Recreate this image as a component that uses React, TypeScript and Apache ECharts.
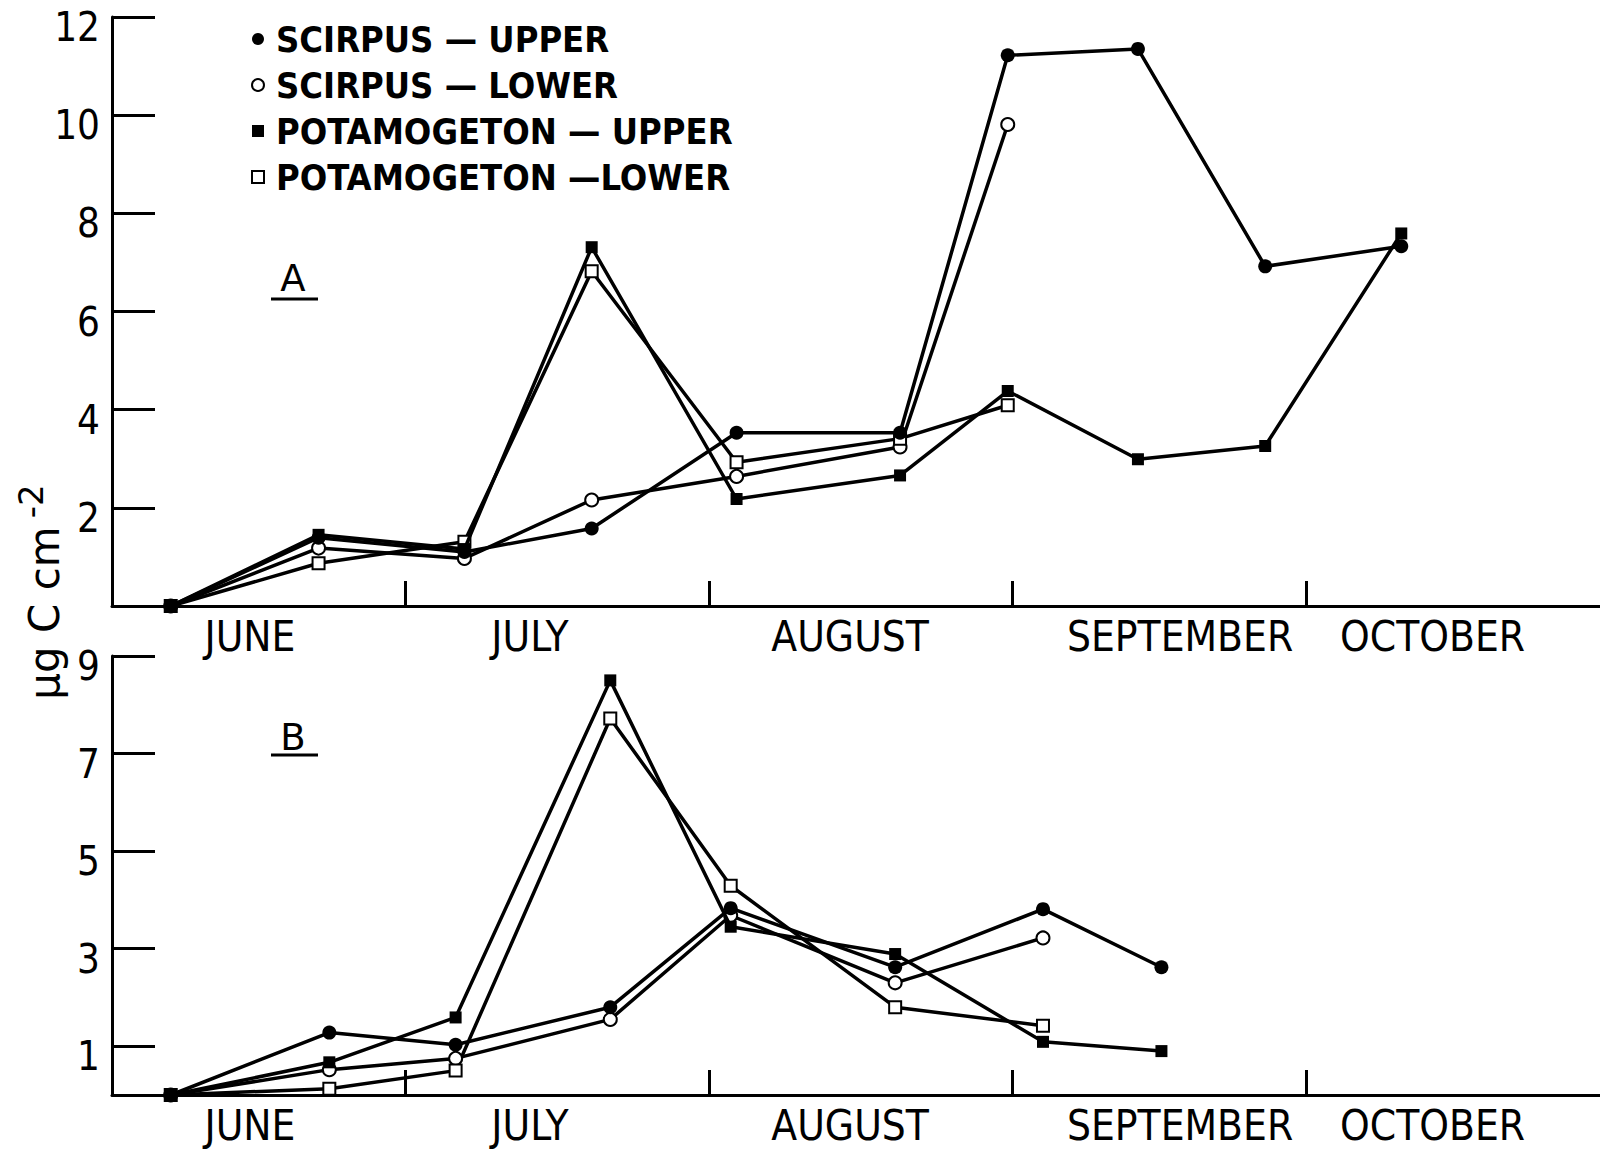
import React, { useEffect, useRef } from "react";
import * as echarts from "echarts";

// ---------- data ----------
const seriesNames = [
  "SCIRPUS — UPPER",
  "SCIRPUS — LOWER",
  "POTAMOGETON — UPPER",
  "POTAMOGETON —LOWER",
];

// x axis: days counted from 1 June
const monthNames = ["JUNE", "JULY", "AUGUST", "SEPTEMBER", "OCTOBER"];
const monthLabelDays = [14.1, 42.7, 75.4, 109.1, 134.9];
const monthStartDays = [30, 61, 92, 122];

const aTicks = [2, 4, 6, 8, 10, 12];
const bTicks = [1, 3, 5, 7, 9];

// Panel A sampling days
const aDays = [6, 21.1, 36, 49, 63.8, 80.5, 91.5, 104.8, 117.8, 131.7];
const aScirpusUpper = [0, 1.39, 1.1, 1.58, 3.53, 3.53, 11.22, 11.35, 6.92, 7.33];
const aScirpusLower = [0, 1.18, 0.97, 2.16, 2.64, 3.24, 9.81];
const aPotUpper = [0, 1.45, 1.16, 7.31, 2.18, 2.66, 4.38, 2.99, 3.26, 7.59];
const aPotLower = [0, 0.87, 1.31, 6.82, 2.93, 3.41, 4.09];

// Panel B sampling days
const bDays = [6, 22.2, 35.1, 50.9, 63.2, 80.0, 95.1, 107.2];
const bScirpusUpper = [0, 1.28, 1.03, 1.8, 3.83, 2.62, 3.81, 2.62];
const bScirpusLower = [0, 0.52, 0.75, 1.55, 3.68, 2.3, 3.22];
const bPotUpper = [0, 0.67, 1.59, 8.5, 3.45, 2.89, 1.09, 0.9];
const bPotLower = [0, 0.13, 0.5, 7.72, 4.29, 1.8, 1.42];

const COND = '"DejaVu Sans Condensed", "DejaVu Sans", sans-serif';
const SANS = '"DejaVu Sans", sans-serif';

const pair = (days: number[], vals: number[]) => vals.map((v, i) => [days[i], v]);

const markerStyles = [
  { symbol: "circle", symbolSize: 14, itemStyle: { color: "#000", borderWidth: 0 } },
  { symbol: "circle", symbolSize: 13, itemStyle: { color: "#fff", borderColor: "#000", borderWidth: 2 } },
  { symbol: "rect", symbolSize: 12, itemStyle: { color: "#000", borderWidth: 0 } },
  { symbol: "rect", symbolSize: 12, itemStyle: { color: "#fff", borderColor: "#000", borderWidth: 2 } },
];

function makeSeries(idx: number, data: number[][], panel: number) {
  return {
    type: "line",
    name: seriesNames[idx],
    xAxisIndex: panel,
    yAxisIndex: panel,
    data,
    symbol: markerStyles[idx].symbol,
    symbolSize: markerStyles[idx].symbolSize,
    showAllSymbol: true,
    itemStyle: markerStyles[idx].itemStyle,
    lineStyle: { color: "#000", width: 3.5 },
    z: idx % 2 === 0 ? 4 : 3,
  };
}

function xAxisFor(gridIndex: number) {
  return {
    type: "value",
    gridIndex,
    min: 0,
    max: 152,
    axisLine: { show: true, onZero: true, lineStyle: { color: "#000", width: 3 } },
    axisTick: {
      show: true,
      inside: true,
      length: 25,
      customValues: monthStartDays,
      lineStyle: { color: "#000", width: 3 },
    },
    axisLabel: {
      show: true,
      customValues: monthLabelDays,
      formatter: (v: number) => {
        const i = monthLabelDays.findIndex((d) => Math.abs(d - v) < 0.01);
        return i >= 0 ? monthNames[i] : "";
      },
      margin: 12,
      color: "#000",
      fontFamily: COND,
      fontSize: 42,
      lineHeight: 36,
    },
    splitLine: { show: false },
  };
}

function yAxisFor(gridIndex: number, max: number, ticks: number[]) {
  return {
    type: "value",
    gridIndex,
    min: 0,
    max,
    axisLine: { show: true, lineStyle: { color: "#000", width: 3 } },
    axisTick: {
      show: true,
      inside: true,
      length: 43,
      customValues: ticks,
      lineStyle: { color: "#000", width: 3 },
    },
    axisLabel: {
      show: true,
      customValues: ticks,
      margin: 12,
      color: "#000",
      fontFamily: COND,
      fontSize: 40,
      verticalAlign: "top",
      lineHeight: 20,
    },
    splitLine: { show: false },
  };
}

export default function App() {
  const ref = useRef<HTMLDivElement>(null);
  useEffect(() => {
    if (!ref.current) return;
    const chart = echarts.init(ref.current, null, { renderer: "svg" });
    const option: any = {
      animation: false,
      backgroundColor: "#fff",
      grid: [
        { left: 112, top: 17, width: 1488, height: 589, outerBoundsMode: "none" },
        { left: 112, top: 656, width: 1488, height: 439, outerBoundsMode: "none" },
      ],
      xAxis: [xAxisFor(0), xAxisFor(1)],
      yAxis: [yAxisFor(0, 12, aTicks), yAxisFor(1, 9, bTicks)],
      legend: {
        orient: "vertical",
        left: 246,
        top: 16,
        itemWidth: 26,
        itemHeight: 12,
        itemGap: 10,
        selectedMode: false,
        textStyle: { fontFamily: COND, fontWeight: "bold", fontSize: 36, color: "#000", lineHeight: 35 },
        data: [
          { name: seriesNames[0], icon: "circle", itemStyle: { color: "#000", borderWidth: 0 } },
          {
            name: seriesNames[1],
            icon: "circle",
            itemStyle: { color: "#fff", borderColor: "#000", borderWidth: 2 },
          },
          {
            name: seriesNames[2],
            icon: "path://M0,0L10,0L10,10L0,10Z",
            itemStyle: { color: "#000", borderWidth: 0 },
          },
          {
            name: seriesNames[3],
            icon: "path://M0,0L10,0L10,10L0,10Z",
            itemStyle: { color: "#fff", borderColor: "#000", borderWidth: 2 },
          },
        ],
      },
      graphic: [
        {
          type: "text",
          x: 44,
          y: 592,
          rotation: Math.PI / 2,
          style: {
            text: "{a|μg C cm}{b|-2}",
            align: "center",
            verticalAlign: "middle",
            fill: "#000",
            rich: {
              a: { fontFamily: SANS, fontSize: 42, fill: "#000" },
              b: { fontFamily: SANS, fontSize: 34, fill: "#000", padding: [0, 0, 26, 8] },
            },
          },
        },
        {
          type: "text",
          x: 293,
          y: 278,
          style: { text: "A", fontFamily: SANS, fontSize: 37, fill: "#000", align: "center", verticalAlign: "middle" },
        },
        { type: "line", shape: { x1: 271, y1: 299, x2: 318, y2: 299 }, style: { stroke: "#000", lineWidth: 3 } },
        {
          type: "text",
          x: 293,
          y: 737,
          style: { text: "B", fontFamily: SANS, fontSize: 37, fill: "#000", align: "center", verticalAlign: "middle" },
        },
        { type: "line", shape: { x1: 271, y1: 755, x2: 318, y2: 755 }, style: { stroke: "#000", lineWidth: 3 } },
      ],
      series: [
        makeSeries(1, pair(aDays, aScirpusLower), 0),
        makeSeries(3, pair(aDays, aPotLower), 0),
        makeSeries(2, pair(aDays, aPotUpper), 0),
        makeSeries(0, pair(aDays, aScirpusUpper), 0),
        makeSeries(1, pair(bDays, bScirpusLower), 1),
        makeSeries(3, pair(bDays, bPotLower), 1),
        makeSeries(2, pair(bDays, bPotUpper), 1),
        makeSeries(0, pair(bDays, bScirpusUpper), 1),
      ],
    };
    chart.setOption(option);
    return () => chart.dispose();
  }, []);
  return <div ref={ref} style={{ width: 1600, height: 1150, position: "absolute", left: 0, top: 0 }} />;
}
